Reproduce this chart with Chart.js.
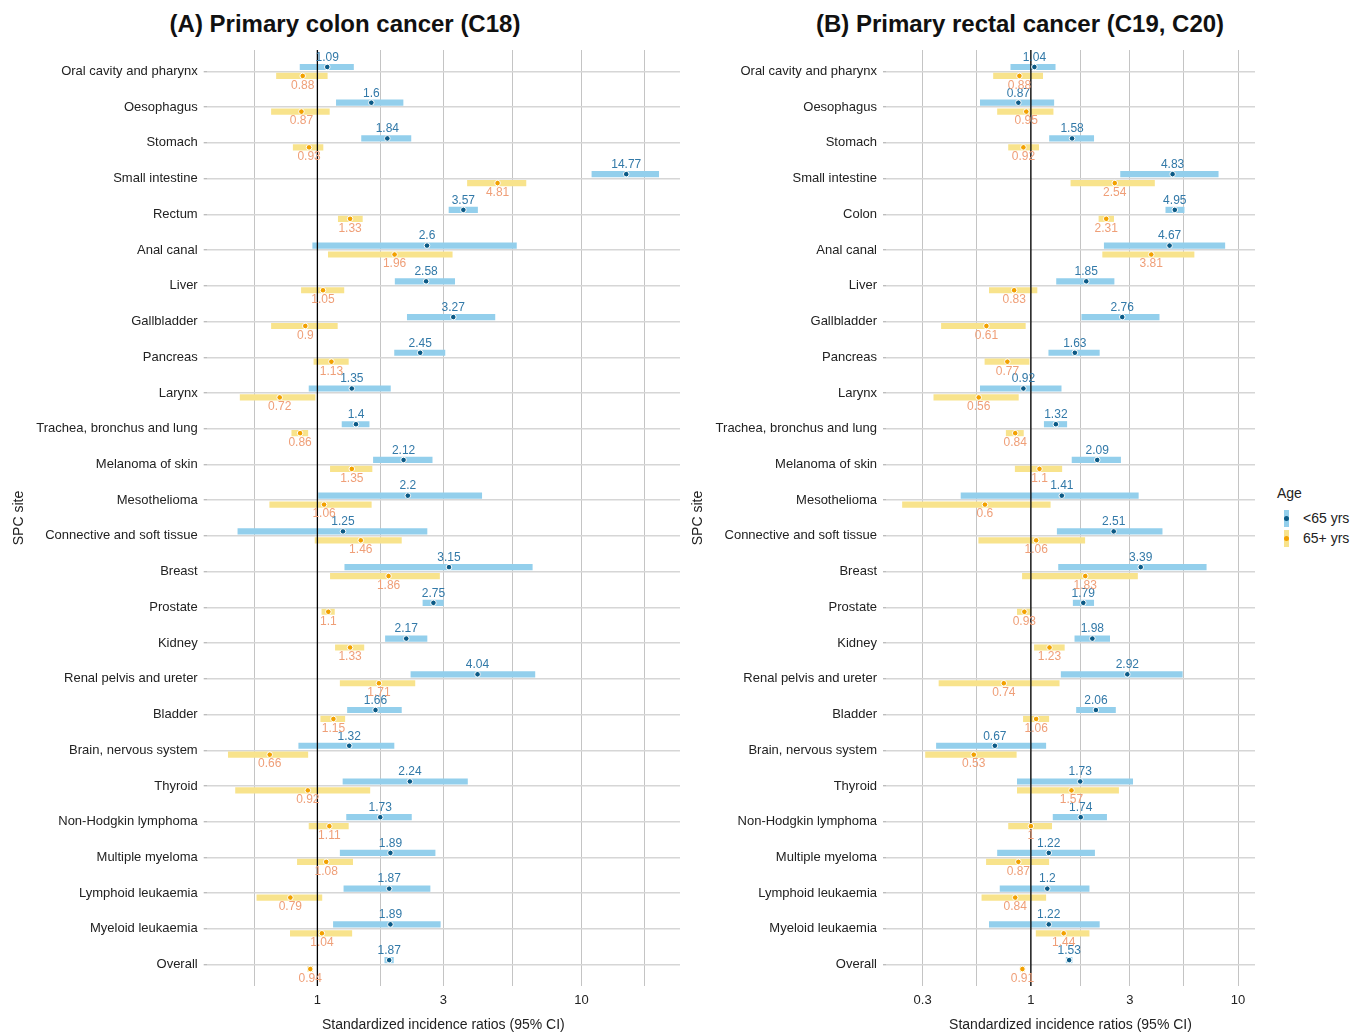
<!DOCTYPE html>
<html>
<head>
<meta charset="utf-8">
<script src="https://cdn.jsdelivr.net/npm/chart.js@4.4.1/dist/chart.umd.min.js"></script>
<style>
  body { margin: 0; background: #fff; font-family: "Liberation Sans", Arial, sans-serif; }
  #wrap { position: relative; width: 1354px; height: 1033px; background: #fff; overflow: hidden; }
  canvas { position: absolute; top: 0; }
  .ptitle { position: absolute; top: 10px; font-weight: bold; font-size: 24px; color: #111; text-align: center; white-space: nowrap; }
  .legend { position: absolute; left: 1277px; top: 485px; width: 77px; font-size: 14px; color: #222; white-space: nowrap; }
  .legend .row { position: relative; height: 20px; }
  .legend .key { position: absolute; left: 7px; top: 1px; width: 5px; height: 17px; }
  .legend .dot { position: absolute; left: 0px; top: 6px; width: 5px; height: 5px; border-radius: 50%; }
  .legend .lab { position: absolute; left: 26px; top: 1px; }
</style>
</head>
<body>
<div id="wrap">
  <div class="ptitle" style="left:0; width:690px;">(A) Primary colon cancer (C18)</div>
  <div class="ptitle" style="left:690px; width:660px;">(B) Primary rectal cancer (C19, C20)</div>
  <canvas id="chartA" width="690" height="1034" style="left:0;"></canvas>
  <canvas id="chartB" width="570" height="1034" style="left:690px;"></canvas>
  <div class="legend">
    <div style="height:24px;">Age</div>
    <div class="row"><div class="key" style="background:#93cfec;"><div class="dot" style="background:#0b5a86;"></div></div><span class="lab">&lt;65 yrs</span></div>
    <div class="row"><div class="key" style="background:#f8e38c;"><div class="dot" style="background:#f2a100;"></div></div><span class="lab">65+ yrs</span></div>
  </div>
</div>
<script>
// ---- data ----
const sitesA = ['Oral cavity and pharynx', 'Oesophagus', 'Stomach', 'Small intestine', 'Rectum', 'Anal canal', 'Liver', 'Gallbladder', 'Pancreas', 'Larynx', 'Trachea, bronchus and lung', 'Melanoma of skin', 'Mesothelioma', 'Connective and soft tissue', 'Breast', 'Prostate', 'Kidney', 'Renal pelvis and ureter', 'Bladder', 'Brain, nervous system', 'Thyroid', 'Non-Hodgkin lymphoma', 'Multiple myeloma', 'Lymphoid leukaemia', 'Myeloid leukaemia', 'Overall'];
const sitesB = ['Oral cavity and pharynx', 'Oesophagus', 'Stomach', 'Small intestine', 'Colon', 'Anal canal', 'Liver', 'Gallbladder', 'Pancreas', 'Larynx', 'Trachea, bronchus and lung', 'Melanoma of skin', 'Mesothelioma', 'Connective and soft tissue', 'Breast', 'Prostate', 'Kidney', 'Renal pelvis and ureter', 'Bladder', 'Brain, nervous system', 'Thyroid', 'Non-Hodgkin lymphoma', 'Multiple myeloma', 'Lymphoid leukaemia', 'Myeloid leukaemia', 'Overall'];

// colon, <65 yrs
const sirYoungA = [1.09, 1.6, 1.84, 14.77, 3.57, 2.6, 2.58, 3.27, 2.45, 1.35, 1.4, 2.12, 2.2, 1.25, 3.15, 2.75, 2.17, 4.04, 1.66, 1.32, 2.24, 1.73, 1.89, 1.87, 1.89, 1.87];
const loYoungA = [0.86, 1.18, 1.47, 10.95, 3.15, 0.96, 1.97, 2.19, 1.96, 0.93, 1.24, 1.63, 1.01, 0.50, 1.27, 2.51, 1.81, 2.26, 1.30, 0.85, 1.25, 1.29, 1.22, 1.26, 1.15, 1.80];
const hiYoungA = [1.37, 2.11, 2.26, 19.6, 4.04, 5.67, 3.31, 4.70, 3.04, 1.89, 1.57, 2.72, 4.19, 2.60, 6.51, 3.00, 2.60, 6.66, 2.08, 1.95, 3.70, 2.27, 2.79, 2.67, 2.92, 1.94];
// colon, 65+ yrs
const sirOldA = [0.88, 0.87, 0.93, 4.81, 1.33, 1.96, 1.05, 0.9, 1.13, 0.72, 0.86, 1.35, 1.06, 1.46, 1.86, 1.1, 1.33, 1.71, 1.15, 0.66, 0.92, 1.11, 1.08, 0.79, 1.04, 0.94];
const loOldA = [0.70, 0.67, 0.81, 3.70, 1.20, 1.10, 0.87, 0.67, 0.97, 0.51, 0.80, 1.12, 0.66, 0.98, 1.12, 1.04, 1.17, 1.22, 1.03, 0.46, 0.49, 0.93, 0.84, 0.59, 0.79, 0.92];
const hiOldA = [1.09, 1.11, 1.05, 6.16, 1.48, 3.24, 1.26, 1.19, 1.31, 0.98, 0.92, 1.61, 1.60, 2.08, 2.90, 1.16, 1.50, 2.34, 1.27, 0.92, 1.58, 1.31, 1.36, 1.04, 1.35, 0.96];

// rectal, <65 yrs
const sirYoungB = [1.04, 0.87, 1.58, 4.83, 4.95, 4.67, 1.85, 2.76, 1.63, 0.92, 1.32, 2.09, 1.41, 2.51, 3.39, 1.79, 1.98, 2.92, 2.06, 0.67, 1.73, 1.74, 1.22, 1.2, 1.22, 1.53];
const loYoungB = [0.80, 0.57, 1.23, 2.71, 4.48, 2.26, 1.33, 1.76, 1.22, 0.57, 1.16, 1.58, 0.46, 1.34, 1.36, 1.60, 1.63, 1.40, 1.66, 0.35, 0.86, 1.28, 0.69, 0.71, 0.63, 1.48];
const hiYoungB = [1.31, 1.29, 2.01, 8.02, 5.49, 8.63, 2.52, 4.16, 2.14, 1.40, 1.49, 2.71, 3.30, 4.30, 7.02, 2.01, 2.40, 5.38, 2.56, 1.18, 3.10, 2.32, 2.03, 1.91, 2.14, 1.58];
// rectal, 65+ yrs
const sirOldB = [0.88, 0.95, 0.92, 2.54, 2.31, 3.81, 0.83, 0.61, 0.77, 0.56, 0.84, 1.1, 0.6, 1.06, 1.83, 0.93, 1.23, 0.74, 1.06, 0.53, 1.57, 1, 0.87, 0.84, 1.44, 0.91];
const loOldB = [0.66, 0.69, 0.78, 1.56, 2.13, 2.22, 0.63, 0.37, 0.60, 0.34, 0.76, 0.84, 0.24, 0.56, 0.91, 0.86, 1.04, 0.36, 0.92, 0.31, 0.86, 0.78, 0.61, 0.58, 1.06, 0.89];
const hiOldB = [1.14, 1.28, 1.09, 3.95, 2.51, 6.13, 1.07, 0.94, 0.98, 0.87, 0.92, 1.41, 1.24, 1.82, 3.27, 1.00, 1.45, 1.37, 1.22, 0.85, 2.65, 1.26, 1.22, 1.18, 1.91, 0.93];

// x axis: labelled ticks and the in-between grid lines
const xLabelsA = [1, 3, 10];
const xGridA = [0.577, 1, 1.732, 3, 5.477, 10, 17.32];
const xLabelsB = [0.3, 1, 3, 10];
const xGridB = [0.3, 0.548, 1, 1.732, 3, 5.477, 10];
const refLine = 1;

const FONT = '"Liberation Sans", Arial, sans-serif';
const BLUE_BAR = '#93cfec', BLUE_PT = '#0b5a86', BLUE_TXT = '#3279a8';
const ORG_BAR = '#f8e38c', ORG_PT = '#f2a100', ORG_TXT = '#ef9f78';
const DODGE = 0.125;

// draws the SIR value above / below each point
const valueLabels = {
  id: 'valueLabels',
  afterDatasetsDraw(chart) {
    const ctx = chart.ctx;
    ctx.save();
    ctx.font = '12px ' + FONT;
    ctx.textAlign = 'center';
    ctx.textBaseline = 'middle';
    chart.data.datasets.forEach((ds, i) => {
      if (!ds.labelColor) return;
      const meta = chart.getDatasetMeta(i);
      ctx.fillStyle = ds.labelColor;
      meta.data.forEach((pt, j) => {
        ctx.fillText(String(ds.data[j].x), pt.x, pt.y + ds.labelOffset);
      });
    });
    ctx.restore();
  }
};

function makePanel(id, sites, young, old, xr, xLabels, xGrid, yAxisW, yTitlePad, padRight) {
  const n = sites.length;
  const ymin = -0.6, ymax = n - 1 + 0.6;
  return new Chart(document.getElementById(id), {
    type: 'bar',
    data: {
      datasets: [
        {
          type: 'line', order: 1, showLine: false,
          data: young.sir.map((v, i) => ({ x: v, y: i - DODGE })),
          pointRadius: 2.8, pointBackgroundColor: BLUE_PT, pointBorderColor: '#fff', pointBorderWidth: 1,
          labelColor: BLUE_TXT, labelOffset: -9.5
        },
        {
          type: 'line', order: 1, showLine: false,
          data: old.sir.map((v, i) => ({ x: v, y: i + DODGE })),
          pointRadius: 2.8, pointBackgroundColor: ORG_PT, pointBorderColor: '#fff', pointBorderWidth: 1,
          labelColor: ORG_TXT, labelOffset: 9.5
        },
        {
          type: 'line', order: 2,
          data: [{ x: refLine, y: ymin }, { x: refLine, y: ymax }],
          borderColor: '#000', borderWidth: 1.3, pointRadius: 0
        },
        {
          type: 'bar', order: 3, grouped: false, barThickness: 5.5,
          data: young.lo.map((v, i) => ({ x: [v, young.hi[i]], y: i - DODGE })),
          backgroundColor: BLUE_BAR, borderWidth: 0
        },
        {
          type: 'bar', order: 3, grouped: false, barThickness: 5.5,
          data: old.lo.map((v, i) => ({ x: [v, old.hi[i]], y: i + DODGE })),
          backgroundColor: ORG_BAR, borderWidth: 0
        }
      ]
    },
    options: {
      indexAxis: 'y',
      responsive: false,
      animation: false,
      devicePixelRatio: 1,
      layout: { padding: { top: 50, right: padRight, bottom: 0, left: 0 } },
      plugins: { legend: { display: false }, tooltip: { enabled: false }, title: { display: false } },
      scales: {
        x: {
          type: 'logarithmic', min: xr[0], max: xr[1], beginAtZero: false,
          border: { display: false },
          grid: { color: '#c4c4c4', lineWidth: 1, drawTicks: false },
          ticks: {
            autoSkip: false, maxRotation: 0, padding: 7, color: '#222',
            font: { size: 13, family: FONT },
            callback: (v) => (xLabels.includes(v) ? String(v) : '')
          },
          afterBuildTicks: (s) => { s.ticks = xGrid.map((v) => ({ value: v })); },
          afterFit: (s) => { s.height = 48; },
          title: { display: true, text: 'Standardized incidence ratios (95% CI)', color: '#222', font: { size: 14, family: FONT }, padding: { top: 0, bottom: 0 } }
        },
        y: {
          type: 'linear', reverse: true, min: ymin, max: ymax, offset: false,
          border: { display: false },
          grid: { offset: false, color: '#d6d6d6', lineWidth: 1.4, drawTicks: true, tickLength: 3, tickColor: '#bdbdbd' },
          ticks: {
            autoSkip: false, padding: 6, color: '#222',
            font: { size: 13, family: FONT },
            callback: (v) => (sites[v] !== undefined ? sites[v] : '')
          },
          afterBuildTicks: (s) => { s.ticks = sites.map((c, i) => ({ value: i })); },
          afterFit: (s) => { s.width = yAxisW; },
          title: { display: true, text: 'SPC site', color: '#222', font: { size: 14, family: FONT }, padding: { top: yTitlePad, bottom: 0 } }
        }
      }
    },
    plugins: [valueLabels]
  });
}

makePanel('chartA', sitesA,
  { sir: sirYoungA, lo: loYoungA, hi: hiYoungA },
  { sir: sirOldA, lo: loOldA, hi: hiOldA },
  [0.381, 23.6], xLabelsA, xGridA, 206.7, 11, 10);

makePanel('chartB', sitesB,
  { sir: sirYoungB, lo: loYoungB, hi: hiYoungB },
  { sir: sirOldB, lo: loOldB, hi: hiOldB },
  [0.1998, 12.07], xLabelsB, xGridB, 196, 0, 3);
</script>
</body>
</html>
